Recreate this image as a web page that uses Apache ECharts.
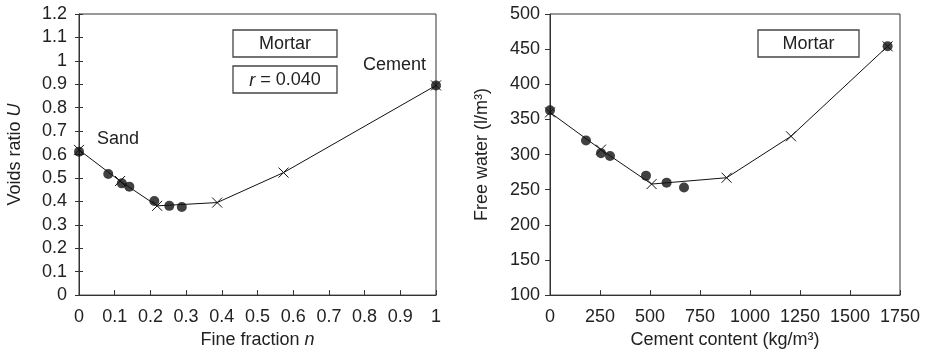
<!DOCTYPE html>
<html>
<head>
<meta charset="utf-8">
<script src="https://cdn.jsdelivr.net/npm/echarts@6/dist/echarts.min.js"></script>
<style>
  html, body { margin: 0; padding: 0; background: #fff; }
  #chart { width: 928px; height: 354px; }
</style>
</head>
<body>
<div id="chart"></div>
<script>
// left panel: voids ratio vs fine fraction
const fineModelX = [0, 0.115, 0.219, 0.387, 0.573, 1];
const fineModelY = [0.62, 0.487, 0.381, 0.395, 0.523, 0.895];
const fineMeasX = [0, 0.082, 0.12, 0.141, 0.211, 0.253, 0.288, 1];
const fineMeasY = [0.612, 0.517, 0.477, 0.463, 0.402, 0.381, 0.376, 0.895];

// right panel: free water vs cement content
const cemModelX = [0, 255, 508, 883, 1205, 1688];
const cemModelY = [360, 307, 258, 267, 326, 454];
const cemMeasX = [0, 180, 255, 300, 480, 583, 670, 1688];
const cemMeasY = [363, 320, 302, 298, 270, 260, 253, 454];

const FONT = "'Liberation Sans', Arial, sans-serif";
const FS = 18;
const TXT = '#222';
const AX = '#333';
const cross = 'path://M0,0L10,10M10,0L0,10';

function pairs(xs, ys) {
  return xs.map((x, i) => [x, ys[i]]);
}

const chart = echarts.init(document.getElementById('chart'));

const labelBase = { color: TXT, fontSize: FS, fontFamily: FONT, formatter: v => String(v) };
const axisBase = {
  axisLine: { show: true, lineStyle: { color: AX, width: 1 } },
  splitLine: { show: false },
  nameTextStyle: { color: TXT, fontSize: FS, fontFamily: FONT }
};
const richName = {
  a: { fontSize: FS, fontFamily: FONT, color: TXT },
  i: { fontSize: FS, fontFamily: FONT, color: TXT, fontStyle: 'italic' }
};

function boxGraphic(x, y, w, h, textOpt) {
  return [
    {
      type: 'rect',
      shape: { x: x, y: y, width: w, height: h },
      style: { fill: '#fff', stroke: '#444', lineWidth: 1.3 },
      z: 100
    },
    {
      type: 'text',
      x: x + w / 2,
      y: y + h / 2 + 1,
      style: Object.assign({
        fill: TXT,
        font: FS + 'px ' + FONT,
        align: 'center',
        verticalAlign: 'middle'
      }, textOpt),
      z: 101
    }
  ];
}

const option = {
  animation: false,
  backgroundColor: '#fff',
  grid: [
    { left: 79, right: 492, top: 14, bottom: 58, show: true, borderColor: AX, borderWidth: 1 },
    { left: 550, right: 28, top: 14, bottom: 58, show: true, borderColor: AX, borderWidth: 1 }
  ],
  xAxis: [
    Object.assign({}, axisBase, {
      gridIndex: 0, type: 'value', min: 0, max: 1, interval: 0.1,
      axisTick: { show: true, inside: true, length: 5, lineStyle: { color: AX } },
      axisLabel: Object.assign({}, labelBase, { margin: 13 }),
      name: '{a|Fine fraction }{i|n}',
      nameLocation: 'middle', nameGap: 35,
      nameTextStyle: { rich: richName }
    }),
    Object.assign({}, axisBase, {
      gridIndex: 1, type: 'value', min: 0, max: 1750, interval: 250,
      axisTick: { show: true, inside: true, length: 5, lineStyle: { color: AX } },
      axisLabel: Object.assign({}, labelBase, { margin: 13 }),
      name: 'Cement content (kg/m\u00B3)',
      nameLocation: 'middle', nameGap: 35
    })
  ],
  yAxis: [
    Object.assign({}, axisBase, {
      gridIndex: 0, type: 'value', min: 0, max: 1.2, interval: 0.1,
      axisTick: { show: true, inside: false, length: 4, lineStyle: { color: AX } },
      axisLabel: Object.assign({}, labelBase, { margin: 12 }),
      name: '{a|Voids ratio }{i|U}',
      nameLocation: 'middle', nameGap: 55, nameRotate: 90,
      nameTextStyle: { rich: richName }
    }),
    // second copy only to draw the inner half of the crossing ticks
    {
      gridIndex: 0, type: 'value', min: 0, max: 1.2, interval: 0.1, position: 'left',
      axisLine: { show: false },
      axisTick: { show: true, inside: true, length: 4, lineStyle: { color: AX } },
      axisLabel: { show: false },
      splitLine: { show: false }
    },
    Object.assign({}, axisBase, {
      gridIndex: 1, type: 'value', min: 100, max: 500, interval: 50,
      axisTick: { show: true, inside: false, length: 5, lineStyle: { color: AX } },
      axisLabel: Object.assign({}, labelBase, { margin: 10 }),
      name: 'Free water (l/m\u00B3)',
      nameLocation: 'middle', nameGap: 59, nameRotate: 90
    })
  ],
  series: [
    {
      type: 'line', xAxisIndex: 0, yAxisIndex: 0,
      data: pairs(fineModelX, fineModelY),
      symbol: cross, symbolSize: 10, showAllSymbol: true,
      lineStyle: { color: '#111', width: 1 },
      itemStyle: { color: 'none', borderColor: '#111', borderWidth: 1 },
      z: 3
    },
    {
      type: 'scatter', xAxisIndex: 0, yAxisIndex: 0,
      data: pairs(fineMeasX, fineMeasY),
      symbol: 'circle', symbolSize: 10,
      itemStyle: { color: '#111' },
      z: 4
    },
    {
      type: 'line', xAxisIndex: 1, yAxisIndex: 2,
      data: pairs(cemModelX, cemModelY),
      symbol: cross, symbolSize: 10, showAllSymbol: true,
      lineStyle: { color: '#111', width: 1 },
      itemStyle: { color: 'none', borderColor: '#111', borderWidth: 1 },
      z: 3
    },
    {
      type: 'scatter', xAxisIndex: 1, yAxisIndex: 2,
      data: pairs(cemMeasX, cemMeasY),
      symbol: 'circle', symbolSize: 10,
      itemStyle: { color: '#111' },
      z: 4
    }
  ],
  graphic: [].concat(
    boxGraphic(233, 30, 104, 27, { text: 'Mortar' }),
    boxGraphic(233, 66, 104, 27, {
      text: '{i|r} = 0.040',
      rich: { i: { fontStyle: 'italic', fontSize: FS, fontFamily: FONT, fill: TXT } }
    }),
    boxGraphic(758, 30, 101, 27, { text: 'Mortar' }),
    [
      { type: 'text', x: 97, y: 130, style: { text: 'Sand', fill: TXT, font: FS + 'px ' + FONT }, z: 101 },
      { type: 'text', x: 363, y: 56, style: { text: 'Cement', fill: TXT, font: FS + 'px ' + FONT }, z: 101 }
    ]
  )
};

chart.setOption(option);
</script>
</body>
</html>
